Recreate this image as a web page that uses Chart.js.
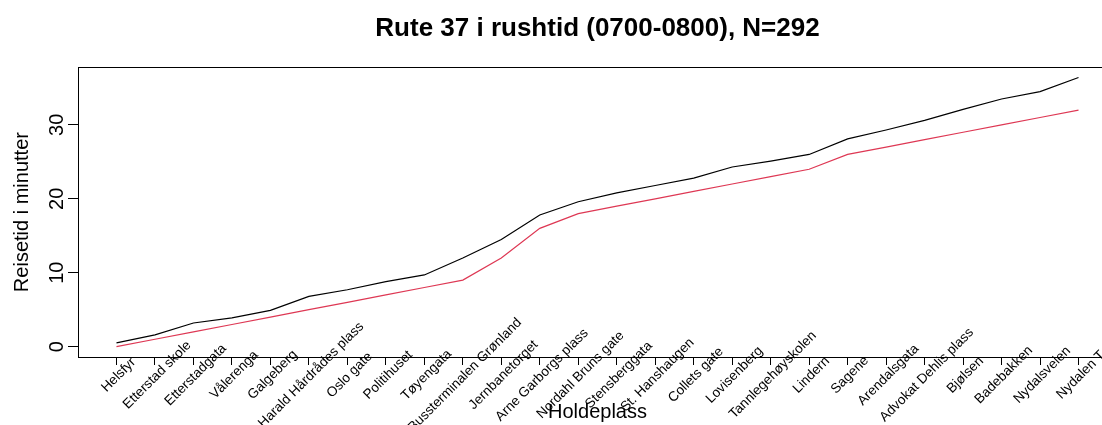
<!DOCTYPE html>
<html>
<head>
<meta charset="utf-8">
<script src="https://cdn.jsdelivr.net/npm/chart.js@4/dist/chart.umd.min.js"></script>
<style>
  html, body { margin: 0; padding: 0; background: #fff; overflow: hidden; }
  canvas { display: block; }
</style>
</head>
<body>
<canvas id="chart" width="1117" height="425"></canvas>
<script>
// Stops on route 37, in order of travel
const holdeplasser = [
  'Helsfyr', 'Etterstad skole', 'Etterstadgata', 'Vålerenga', 'Galgeberg',
  'Harald Hårdrådes plass', 'Oslo gate', 'Politihuset', 'Tøyengata',
  'Bussterminalen Grønland', 'Jernbanetorget', 'Arne Garborgs plass',
  'Nordahl Bruns gate', 'Stensberggata', 'St. Hanshaugen', 'Collets gate',
  'Lovisenberg', 'Tannlegehøyskolen', 'Lindern', 'Sagene', 'Arendalsgata',
  'Advokat Dehlis plass', 'Bjølsen', 'Badebakken', 'Nydalsveien', 'Nydalen T'
];

// Mean observed travel time from Helsfyr (minutes)
const reisetid = [
  0.5, 1.6, 3.2, 3.9, 4.9, 6.8, 7.7, 8.8, 9.7, 12.0, 14.5, 17.8, 19.6,
  20.8, 21.8, 22.8, 24.3, 25.1, 26.0, 28.1, 29.3, 30.6, 32.1, 33.5, 34.5, 36.4
];

// Timetabled travel time from Helsfyr (minutes)
const rutetid = [
  0, 1, 2, 3, 4, 5, 6, 7, 8, 9, 12, 16, 18,
  19, 20, 21, 22, 23, 24, 26, 27, 28, 29, 30, 31, 32
];

const yTicks = [0, 10, 20, 30];

const tittel = 'Rute 37 i rushtid (0700-0800), N=292';
const xTittel = 'Holdeplass';
const yTittel = 'Reisetid i minutter';

const FONT = "'Liberation Sans', Arial, sans-serif";

const toPoints = vals => vals.map((v, i) => ({ x: i + 1, y: v }));

// Frame around the plotting region
const plotBox = {
  id: 'plotBox',
  afterDraw(chart) {
    const { ctx, chartArea: a } = chart;
    ctx.save();
    ctx.strokeStyle = '#000';
    ctx.lineWidth = 1;
    ctx.strokeRect(Math.round(a.left) + 0.5, Math.round(a.top) + 0.5,
                   Math.round(a.right - a.left), Math.round(a.bottom - a.top));
    ctx.restore();
  }
};

// Slanted stop names are centred on a point just below their tick,
// so long names reach up over the axis line
const centredSlantLabels = {
  id: 'centredSlantLabels',
  beforeDraw(chart) {
    const scale = chart.scales.x;
    const y = scale.top + scale.options.grid.tickLength + scale.options.ticks.padding;
    for (const item of scale.getLabelItems()) {
      item.options.textAlign = 'center';
      item.options.textBaseline = 'middle';
      item.options.translation = [item.options.translation[0], y];
      item.textOffset = 0;
    }
  }
};

new Chart(document.getElementById('chart'), {
  type: 'line',
  data: {
    datasets: [
      {
        label: 'Reisetid',
        data: toPoints(reisetid),
        borderColor: '#000000',
        borderWidth: 1.2,
        pointRadius: 0,
        tension: 0,
        fill: false
      },
      {
        label: 'Rutetid',
        data: toPoints(rutetid),
        borderColor: '#DE3854',
        borderWidth: 1.2,
        pointRadius: 0,
        tension: 0,
        fill: false
      }
    ]
  },
  options: {
    responsive: false,
    animation: false,
    devicePixelRatio: 1,
    layout: { padding: 0 },
    plugins: {
      legend: { display: false },
      tooltip: { enabled: false },
      title: {
        display: true,
        text: tittel,
        fullSize: false,
        color: '#000',
        font: { family: FONT, size: 26, weight: 'bold' },
        padding: { top: 13, bottom: 23 }
      }
    },
    scales: {
      x: {
        type: 'linear',
        min: 0,
        max: holdeplasser.length + 1,
        afterBuildTicks: scale => {
          scale.ticks = holdeplasser.map((_, i) => ({ value: i + 1 }));
        },
        afterFit: scale => { scale.height = 68; },
        border: { display: false },
        grid: {
          drawOnChartArea: false,
          drawTicks: true,
          tickLength: 8,
          tickColor: '#000',
          tickWidth: 1
        },
        ticks: {
          autoSkip: false,
          mirror: true,
          minRotation: 45,
          maxRotation: 45,
          labelOffset: 8,
          padding: 10,
          color: '#000',
          font: { family: FONT, size: 13.6 },
          callback: v => holdeplasser[v - 1] ?? ''
        },
        title: {
          display: true,
          text: xTittel,
          color: '#000',
          font: { family: FONT, size: 20 },
          padding: { top: 0, bottom: 1 }
        }
      },
      y: {
        type: 'linear',
        min: -1.4,
        max: 37.8,
        afterBuildTicks: scale => {
          scale.ticks = yTicks.map(v => ({ value: v }));
        },
        afterFit: scale => { scale.width = 78; },
        border: { display: false },
        grid: {
          drawOnChartArea: false,
          drawTicks: true,
          tickLength: 10,
          tickColor: '#000',
          tickWidth: 1
        },
        ticks: {
          minRotation: 90,
          maxRotation: 90,
          crossAlign: 'center',
          padding: -1,
          color: '#000',
          font: { family: FONT, size: 20 },
          callback: v => String(v)
        },
        title: {
          display: true,
          text: yTittel,
          color: '#000',
          font: { family: FONT, size: 20 },
          padding: { top: 10, bottom: 0 }
        }
      }
    }
  },
  plugins: [plotBox, centredSlantLabels]
});
</script>
</body>
</html>
